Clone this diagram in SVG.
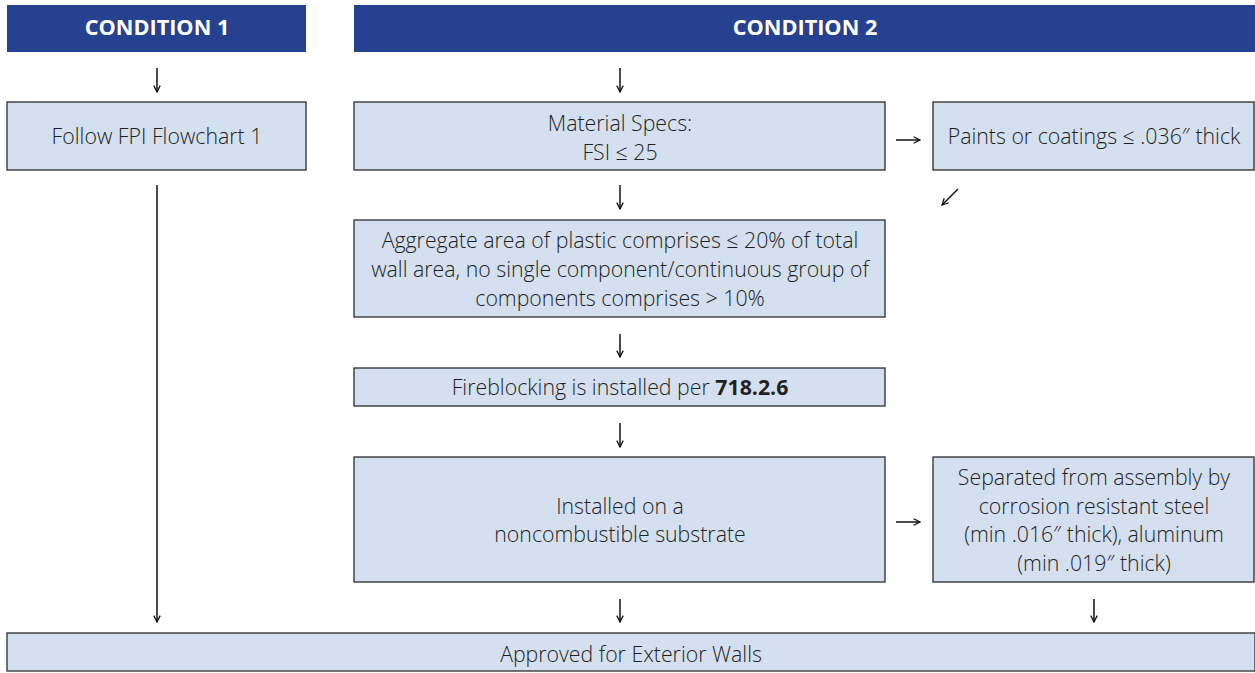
<svg xmlns="http://www.w3.org/2000/svg" width="1255" height="673" viewBox="0 0 1255 673">
<style>
.hdr{fill:#26418f}
.hdrt{font-family:"Open Sans","Liberation Sans",sans-serif;font-weight:bold;font-size:21.7px;fill:#ffffff;text-anchor:middle}
.box{fill:#d4dff0;stroke:#2b2b2b;stroke-width:1.3}
.t{font-family:"Open Sans","Liberation Sans",sans-serif;font-weight:300;font-size:21.3px;fill:#231f20;text-anchor:middle}
.b{font-weight:bold}
.c{stroke:#111;stroke-width:1.5;fill:none;marker-end:url(#ah)}
</style>
<defs>
<marker id="ah" viewBox="0 0 10 10" refX="9" refY="5" markerWidth="8" markerHeight="8" markerUnits="userSpaceOnUse" orient="auto">
<path d="M1,1 L9,5 L1,9" fill="none" stroke="#111" stroke-width="1.6"/>
</marker>
</defs>
<rect width="1255" height="673" fill="#ffffff"/>
<g id="condition1">
<rect class="hdr" x="7" y="5" width="299" height="47"/>
<text class="hdrt" x="157" y="35">CONDITION 1</text>
</g>
<g id="condition2">
<rect class="hdr" x="354" y="5" width="901" height="47"/>
<text class="hdrt" x="805" y="35">CONDITION 2</text>
</g>
<g id="fpi">
<rect class="box" x="7" y="102" width="299" height="68"/>
<text class="t" x="157" y="144">Follow FPI Flowchart 1</text>
</g>
<g id="material">
<rect class="box" x="354" y="102" width="531" height="68"/>
<text class="t" x="620" y="131">Material Specs:</text>
<text class="t" x="620" y="160">FSI ≤ 25</text>
</g>
<g id="paints">
<rect class="box" x="933" y="102" width="321" height="68"/>
<text class="t" x="1094" y="144">Paints or coatings ≤ .036″ thick</text>
</g>
<g id="aggregate">
<rect class="box" x="354" y="220" width="531" height="97"/>
<text class="t" x="620" y="248">Aggregate area of plastic comprises ≤ 20% of total</text>
<text class="t" x="620" y="277">wall area, no single component/continuous group of</text>
<text class="t" x="620" y="306">components comprises &gt; 10%</text>
</g>
<g id="fireblocking">
<rect class="box" x="354" y="368" width="531" height="38"/>
<text class="t" x="620" y="395">Fireblocking is installed per <tspan class="b">718.2.6</tspan></text>
</g>
<g id="installed">
<rect class="box" x="354" y="457" width="531" height="125"/>
<text class="t" x="620" y="514">Installed on a</text>
<text class="t" x="620" y="542">noncombustible substrate</text>
</g>
<g id="separated">
<rect class="box" x="933" y="457" width="321" height="125"/>
<text class="t" x="1094" y="485">Separated from assembly by</text>
<text class="t" x="1094" y="514">corrosion resistant steel</text>
<text class="t" x="1094" y="542">(min .016″ thick), aluminum</text>
<text class="t" x="1094" y="571">(min .019″ thick)</text>
</g>
<g id="approved">
<rect class="box" x="7" y="633" width="1248" height="38"/>
<text class="t" x="631" y="662">Approved for Exterior Walls</text>
</g>
<g id="connectors">
<line class="c" x1="157" y1="68" x2="157" y2="92"/>
<line class="c" x1="620" y1="68" x2="620" y2="92"/>
<line class="c" x1="896" y1="140" x2="920" y2="140"/>
<line class="c" x1="958" y1="189" x2="942" y2="205"/>
<line class="c" x1="620" y1="185" x2="620" y2="209"/>
<line class="c" x1="157" y1="185" x2="157" y2="622"/>
<line class="c" x1="620" y1="334" x2="620" y2="357"/>
<line class="c" x1="620" y1="423" x2="620" y2="447"/>
<line class="c" x1="896" y1="522" x2="920" y2="522"/>
<line class="c" x1="620" y1="599" x2="620" y2="622"/>
<line class="c" x1="1094" y1="599" x2="1094" y2="622"/>
</g>
</svg>
